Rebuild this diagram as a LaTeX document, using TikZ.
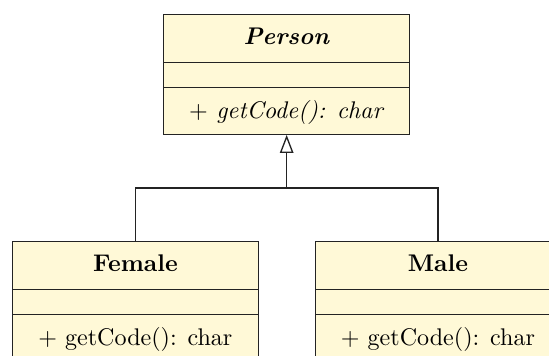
\documentclass[tikz,border=0pt]{standalone}
\usepackage{tikz}
\usetikzlibrary{shapes,arrows.meta,positioning}
\definecolor{classfill}{RGB}{255,249,215}
\definecolor{classline}{RGB}{35,35,35}
\tikzstyle{umlclass} = [rectangle split, rectangle split parts=3, draw=classline, fill=classfill, line width=0.45pt, minimum width=102pt, inner xsep=0pt, inner ysep=0pt]
\tikzstyle{inherit} = [draw=classline, line width=0.55pt, -{Triangle[open, length=7.5pt, width=5.6pt]}]
\newcommand{\namerow}[1]{\rule[-7.2pt]{0pt}{19.3pt}#1}
\newcommand{\emptyrow}{\rule{0pt}{10.1pt}}
\newcommand{\oprow}[1]{\rule[-6.5pt]{0pt}{19.0pt}#1}

\begin{document}
\begin{tikzpicture}
\useasboundingbox (-119.0pt,5.8pt) rectangle (108.9pt,-141.9pt);

% abstract class =============================
\node[umlclass, anchor=north] (person) at (0,0) {\namerow{\textbf{\textit{Person}}}
  \nodepart{two} \emptyrow
  \nodepart{three} \oprow{\textit{$+$ getCode(): char}}};

% subclasses =============================
\node[umlclass, below=44.2pt of person, xshift=-62.8pt] (female) {\namerow{\textbf{Female}}
  \nodepart{two} \emptyrow
  \nodepart{three} \oprow{$+$ getCode(): char}};
\node[umlclass, below=44.2pt of person, xshift=62.8pt] (male) {\namerow{\textbf{Male}}
  \nodepart{two} \emptyrow
  \nodepart{three} \oprow{$+$ getCode(): char}};

% edges
\coordinate[below=22.1pt of person.south] (joint);
\path[inherit] (female.north) |- (joint) -- (person.south);
\draw[draw=classline, line width=0.55pt] (male.north) |- (joint);

\end{tikzpicture}
\end{document}
